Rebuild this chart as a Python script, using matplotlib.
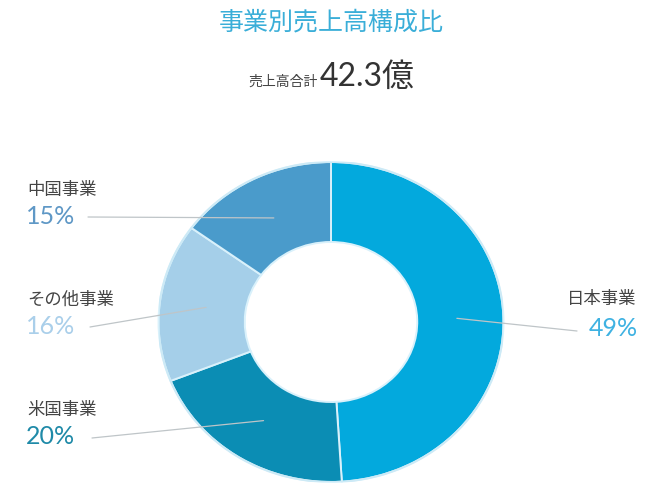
import matplotlib
matplotlib.use("Agg")
import numpy as np
import matplotlib.pyplot as plt
from matplotlib.patches import Ellipse

W, H = 654, 491

# data
segments = ["日本事業", "米国事業", "その他事業", "中国事業"]
shares = [49, 20, 16, 15]
total_label = "42.3億"

slice_colors = ["#03a9dd", "#0b8db4", "#a5cfe9", "#4a9bcb"]
pct_colors = ["#3fb2e2", "#1f8aa8", "#aacfea", "#5f98c6"]

# label anchor positions in pixels (name y, pct y, x, align)
label_pos = {
    "日本事業": (299, 329, 636, "right"),
    "米国事業": (410, 437, 27, "left"),
    "その他事業": (300, 326, 27, "left"),
    "中国事業": (190, 216, 27, "left"),
}
line_end = {
    "日本事業": (577, 331),
    "米国事業": (92, 438),
    "その他事業": (90, 327),
    "中国事業": (88, 217),
}

cjk = ["Noto Sans CJK JP", "DejaVu Sans"]
num = ["Lato", "Noto Sans CJK JP"]


def fx(x):
    return x / W


def fy(y):
    return 1 - y / H


fig = plt.figure(figsize=(W / 100, H / 100), dpi=100)
fig.patch.set_facecolor("white")

# donut: center (331, 322), rx 172.5, ry 160
cx, cy, rx, ry = 331, 322, 172.5, 160
ax = fig.add_axes([fx(cx - rx), fy(cy + ry), 2 * rx / W, 2 * ry / H])
wedges, _ = ax.pie(
    shares,
    colors=slice_colors,
    startangle=90,
    counterclock=False,
    radius=1.0,
    wedgeprops=dict(width=0.5, edgecolor="#d9f1fb", linewidth=1.4),
)
ax.add_patch(Ellipse((0, 0), 2.0, 2.0, fill=False, edgecolor="#cdeaf6", lw=1.5))
ax.set_aspect("auto")
ax.set_xlim(-1, 1)
ax.set_ylim(-1, 1)
ax.axis("off")

# leader lines and labels
for w, name, pct, pc in zip(wedges, segments, shares, pct_colors):
    ang = np.deg2rad((w.theta1 + w.theta2) / 2)
    r = 0.73
    start = (r * np.cos(ang), r * np.sin(ang))
    ex, ey = line_end[name]
    ax.annotate(
        "",
        xy=start,
        xycoords="data",
        xytext=(fx(ex), fy(ey)),
        textcoords="figure fraction",
        arrowprops=dict(arrowstyle="-", color="#bfc5c8", lw=0.9,
                        shrinkA=0, shrinkB=0),
        annotation_clip=False,
    )
    ny, py, lx, ha = label_pos[name]
    fig.text(fx(lx), fy(ny), name, ha=ha, va="center", fontsize=12.5,
             color="#444444", family=cjk)
    fig.text(fx(lx + (2 if ha == "right" else -1)), fy(py), f"{pct}%",
             ha=ha, va="center", fontsize=18, color=pc, family=num)

# title and total
fig.text(fx(331), fy(22), "事業別売上高構成比", ha="center", va="center",
         fontsize=18, color="#3aaed8", family=cjk)
fig.text(fx(318), fy(86), "売上高合計", ha="right", va="baseline",
         fontsize=10, color="#444444", family=cjk)
fig.text(fx(320), fy(86), total_label, ha="left", va="baseline",
         fontsize=23, color="#333333", family=num)

fig.savefig("out.png", dpi=100)
